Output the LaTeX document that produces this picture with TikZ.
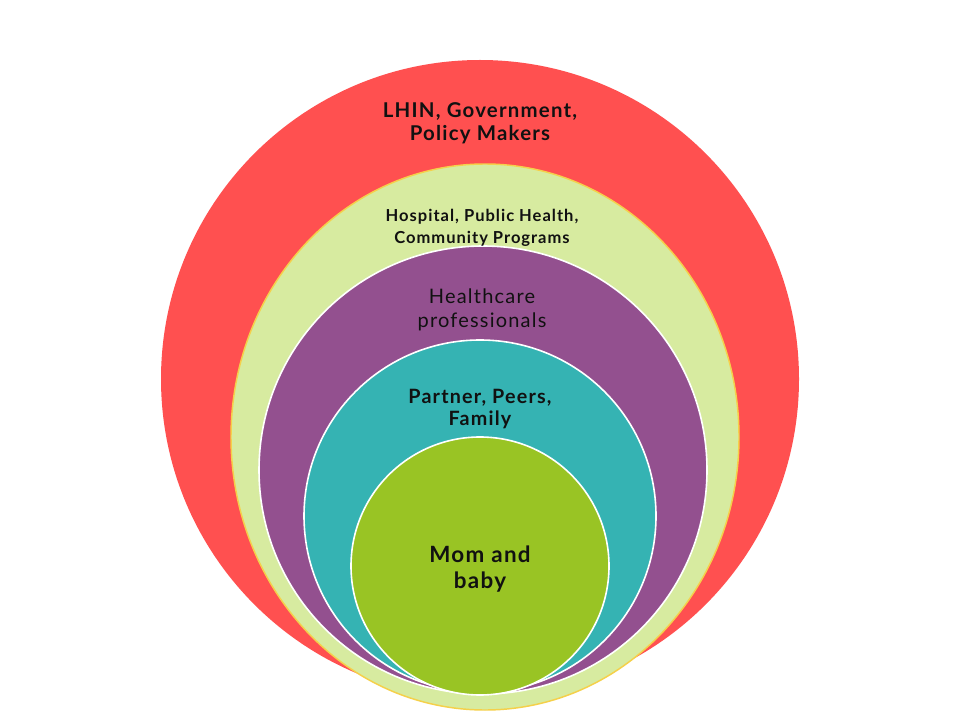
\documentclass[tikz,border=0pt]{standalone}
\usepackage{fontspec}
\setmainfont{Lato}[LetterSpace=6]
\definecolor{cred}{HTML}{FF5050}
\definecolor{clight}{HTML}{D7EBA0}
\definecolor{cyel}{HTML}{F5D04A}
\definecolor{cpurp}{HTML}{93508F}
\definecolor{cteal}{HTML}{35B3B3}
\definecolor{cgreen}{HTML}{99C424}
\definecolor{ctext}{HTML}{111111}
\tikzset{
  ring/.style={draw=white, line width=1.2pt},
  lbl/.style={align=center, text=ctext, inner sep=0pt, font=\bfseries},
}
\begin{document}
\begin{tikzpicture}[x=0.75pt,y=-0.75pt]
\path[use as bounding box, fill=white] (0,0) rectangle (960,720);
\fill[cred] (480,379) circle [radius=319];
\filldraw[fill=clight, draw=cyel, line width=1.1pt] (485,437) ellipse [x radius=254, y radius=273];
\filldraw[ring, fill=cpurp] (483,470) circle [radius=224];
\filldraw[ring, fill=cteal] (480,516) circle [radius=176];
\filldraw[ring, fill=cgreen] (480,566) circle [radius=129];
\node[lbl, font=\bfseries\fontsize{15.3}{17.3}\selectfont] (t1) at (480,123) {LHIN, Government,\\Policy Makers};
\node[lbl, font=\bfseries\fontsize{12.4}{16.5}\selectfont] (t2) at (482,228) {Hospital, Public Health,\\Community Programs};
\node[lbl, font=\fontsize{15}{17.5}\selectfont] (t3) at (482,310) {Healthcare\\professionals};
\node[lbl, font=\bfseries\fontsize{14.8}{16.5}\selectfont] (t4) at (480,409) {Partner, Peers,\\Family};
\node[lbl, font=\bfseries\fontsize{16.8}{20}\selectfont] (t5) at (480,569) {Mom and\\baby};
\end{tikzpicture}
\end{document}
